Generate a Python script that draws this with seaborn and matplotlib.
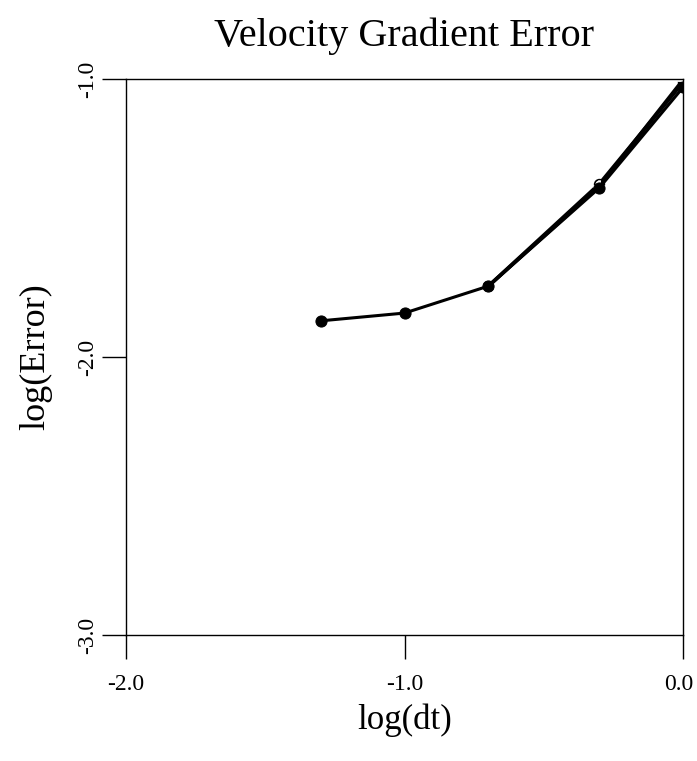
import pandas as pd
import seaborn as sns
import matplotlib.pyplot as plt
from matplotlib.transforms import ScaledTranslation

sns.set_theme(style="white")
plt.rcParams["font.family"] = ["Liberation Serif", "DejaVu Serif"]
plt.rcParams["text.color"] = "black"
plt.rcParams["axes.labelcolor"] = "black"
plt.rcParams["xtick.color"] = "black"
plt.rcParams["ytick.color"] = "black"

# data (log10 values)
dt_fine = [-1.301, -1.0, -0.699, -0.301, 0.0]
err_fine = [-1.870, -1.842, -1.745, -1.392, -1.030]

dt_mid = [-0.699, -0.301, 0.0]
err_mid = [-1.745, -1.378, -1.012]

dt_top = [-0.699, -0.301, 0.0]
err_top = [-1.745, -1.386, -1.003]

x_ticks = [-2.0, -1.0, 0.0]
y_ticks = [-3.0, -2.0, -1.0]
tick_labels_x = ["-2.0", "-1.0", "0.0"]
tick_labels_y = ["-3.0", "-2.0", "-1.0"]

df = pd.concat([
    pd.DataFrame({"dt": dt_fine, "err": err_fine, "run": "a"}),
    pd.DataFrame({"dt": dt_mid, "err": err_mid, "run": "b"}),
    pd.DataFrame({"dt": dt_top, "err": err_top, "run": "c"}),
])

fig = plt.figure(figsize=(6.97, 7.61), dpi=100)
ax = fig.add_axes([0.1808, 0.1656, 0.7992, 0.7306])

# overlapping runs make the upper part look heavy
sns.lineplot(data=df[df.run == "b"], x="dt", y="err", ax=ax, color="black",
             linewidth=2.6, marker="o", markersize=7, markerfacecolor="white",
             markeredgecolor="black", markeredgewidth=1.2, sort=False)
sns.lineplot(data=df[df.run == "c"], x="dt", y="err", ax=ax, color="black",
             linewidth=2.6, marker="+", markersize=9, markeredgewidth=2,
             sort=False)
# thin run with filled dots, on top
sns.lineplot(data=df[df.run == "a"], x="dt", y="err", ax=ax, color="black",
             linewidth=2.2, marker="o", markersize=8, markeredgecolor="black",
             sort=False)

ax.set_xlim(-2.0, 0.0)
ax.set_ylim(-3.0, -1.0)
ax.set_xticks(x_ticks)
ax.set_xticklabels(tick_labels_x, fontsize=17)
ax.set_yticks(y_ticks)
ax.set_yticklabels(tick_labels_y, fontsize=17, rotation=90, va="center")

ax.tick_params(axis="both", direction="out", length=17, width=1.0,
               color="black", bottom=True, left=True)
ax.tick_params(axis="x", pad=11)
ax.tick_params(axis="y", pad=3)

# keep the "0.0" label inside the canvas
last = ax.get_xticklabels()[-1]
last.set_transform(last.get_transform() + ScaledTranslation(-4 / 100, 0, fig.dpi_scale_trans))

for sp in ax.spines.values():
    sp.set_visible(True)
    sp.set_color("black")
    sp.set_linewidth(1.0)

ax.set_xlabel("log(dt)", fontsize=25, labelpad=6)
ax.set_ylabel("log(Error)", fontsize=26, labelpad=18)
ax.set_title("Velocity Gradient Error", fontsize=29, pad=24)

fig.savefig("out.png", dpi=100)
